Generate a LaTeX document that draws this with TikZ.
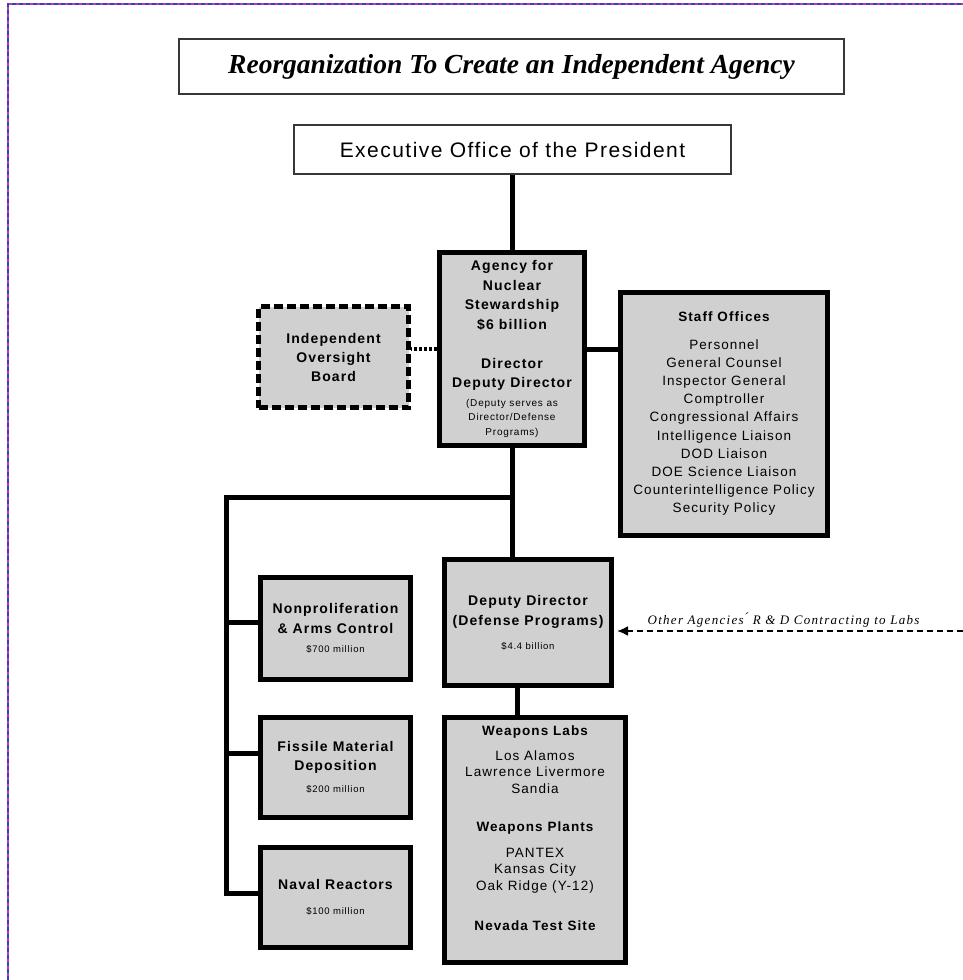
\documentclass[tikz,border=0pt]{standalone}
\usepackage{fontspec}
\setmainfont{Liberation Serif}
\setsansfont{Liberation Sans}
\newfontfamily\orgboxfont[LetterSpace=8]{Liberation Sans}
\newfontfamily\orgexecfont[LetterSpace=7]{Liberation Sans}
\newfontfamily\orgnotefont[LetterSpace=10]{Liberation Serif}
\usetikzlibrary{arrows.meta}
\definecolor{boxgray}{RGB}{208,208,208}
\definecolor{frameblue}{RGB}{60,60,190}
\definecolor{framepink}{RGB}{190,60,170}
\definecolor{thinframe}{RGB}{55,55,55}
\newcommand{\orgsm}{\fontsize{9.5}{12}\selectfont}
\newcommand{\orgsmb}{\fontsize{10}{12}\selectfont}
\begin{document}
\begin{tikzpicture}[x=1pt,y=-1pt,
  orgbox/.style={draw=black,line width=5pt,fill=boxgray,align=center,inner sep=0pt},
  dashbox/.style={orgbox,dash pattern=on 9pt off 4pt},
  thinbox/.style={draw=thinframe,line width=2pt,fill=white,inner sep=0pt},
  conn/.style={draw=black,line width=5pt},
  dotconn/.style={draw=black,line width=4pt,dash pattern=on 3pt off 2pt},
  outside/.style={draw=black,line width=2pt,dash pattern=on 6pt off 4pt,-{Latex[length=11pt,width=10pt]}}
]
\useasboundingbox (0,0) rectangle (963,980);
% page frame
\draw[framepink,line width=1.5pt] (8,980) -- (8,4) -- (963,4);
\draw[frameblue,line width=1.5pt,dash pattern=on 4pt off 3pt] (8,980) -- (8,4) -- (963,4);

% title and executive office
\node[thinbox,minimum width=665pt,minimum height=55pt,
  font=\fontsize{27.5}{32}\selectfont\bfseries\itshape] (title) at (511.5,66.5)
  {Reorganization To Create an Independent Agency};
\node[thinbox,minimum width=437pt,minimum height=49pt,
  font=\orgexecfont\fontsize{21}{25}\selectfont] (exec) at (512.5,149.5)
  {Executive Office of the President};

% agency
\node[orgbox,minimum width=145pt,minimum height=193pt,
  font=\orgboxfont\fontsize{14}{19.5}\selectfont] (agency) at (512,349)
  {\bfseries Agency for\\\bfseries Nuclear\\\bfseries Stewardship\\\bfseries \$6 billion\\[19.5pt]
   \bfseries Director\\\bfseries Deputy Director\\[-1pt]
   \orgsmb (Deputy serves as\\[-5pt]\orgsmb Director/Defense\\[-5pt]\orgsmb Programs)};

% oversight board
\node[dashbox,minimum width=150pt,minimum height=101pt,
  font=\orgboxfont\fontsize{14}{19}\selectfont] (oversight) at (333.5,357)
  {\bfseries Independent\\\bfseries Oversight\\\bfseries Board};

% staff offices
\node[orgbox,minimum width=207pt,minimum height=243pt,
  font=\orgboxfont\fontsize{13.5}{18.2}\selectfont] (staff) at (724,414)
  {\bfseries Staff Offices\\[9pt]
   Personnel\\General Counsel\\Inspector General\\Comptroller\\Congressional Affairs\\
   Intelligence Liaison\\DOD Liaison\\DOE Science Liaison\\Counterintelligence Policy\\Security Policy};

% left column
\node[orgbox,minimum width=150pt,minimum height=102pt,
  font=\orgboxfont\fontsize{14}{20}\selectfont] (nonprolif) at (335.5,628.5)
  {\bfseries Nonproliferation\\\bfseries \& Arms Control\\[-1pt]\orgsm \$700 million};
\node[orgbox,minimum width=150pt,minimum height=100pt,
  font=\orgboxfont\fontsize{14}{19}\selectfont] (fissile) at (335.5,767.5)
  {\bfseries Fissile Material\\\bfseries Deposition\\[3pt]\orgsm \$200 million};
\node[orgbox,minimum width=150pt,minimum height=100pt,
  font=\orgboxfont\fontsize{14}{19}\selectfont] (naval) at (335.5,897.5)
  {\bfseries Naval Reactors\\[6pt]\orgsm \$100 million};

% deputy director and weapons complex
\node[orgbox,minimum width=167pt,minimum height=126pt,
  font=\orgboxfont\fontsize{14}{20}\selectfont] (deputy) at (528,622.5)
  {\bfseries Deputy Director\\\bfseries (Defense Programs)\\[4pt]\orgsm \$4.4 billion};
\node[orgbox,minimum width=181pt,minimum height=245pt,
  font=\orgboxfont\fontsize{13.5}{16.5}\selectfont] (weapons) at (535,840)
  {\bfseries Weapons Labs\\[8.5pt]
   Los Alamos\\Lawrence Livermore\\Sandia\\[21.5pt]
   \bfseries Weapons Plants\\[9.5pt]
   PANTEX\\Kansas City\\Oak Ridge (Y-12)\\[23.5pt]
   \bfseries Nevada Test Site\\[7.5pt]\mbox{}};

% note on the incoming arrow
\node[font=\orgnotefont\itshape\fontsize{13}{15}\selectfont,inner sep=0pt] (note) at (783.5,620)
  {Other Agencies\'{} R \& D Contracting to Labs};

% coordinates
\coordinate (jy) at (0,497);
\coordinate (bus) at (226,497);
\coordinate (dw) at (517,0);
\coordinate (src) at (963,631);
\path ([yshift=6pt]nonprolif.west) coordinate (n1);
\path ([yshift=14pt]fissile.west) coordinate (n2);
\path ([yshift=4pt]naval.west) coordinate (n3);

% connectors
\draw[conn] (exec.south) -- (exec.south |- agency.north);
\draw[conn] (agency.east) -- (agency.east -| staff.west);
\draw[dotconn] (agency.west) -- (agency.west -| oversight.east);
\draw[conn] (agency.south) -- (agency.south |- jy) -- (bus) -- (bus |- n3) -- (n3);
\draw[conn] (bus |- n1) -- (n1);
\draw[conn] (bus |- n2) -- (n2);
\draw[conn] (agency.south |- jy) -- (agency.south |- deputy.north);
\draw[conn] (dw |- deputy.south) -- (dw |- weapons.north);
\draw[outside] (src) -- ([xshift=3pt]deputy.east |- src);
\end{tikzpicture}
\end{document}
